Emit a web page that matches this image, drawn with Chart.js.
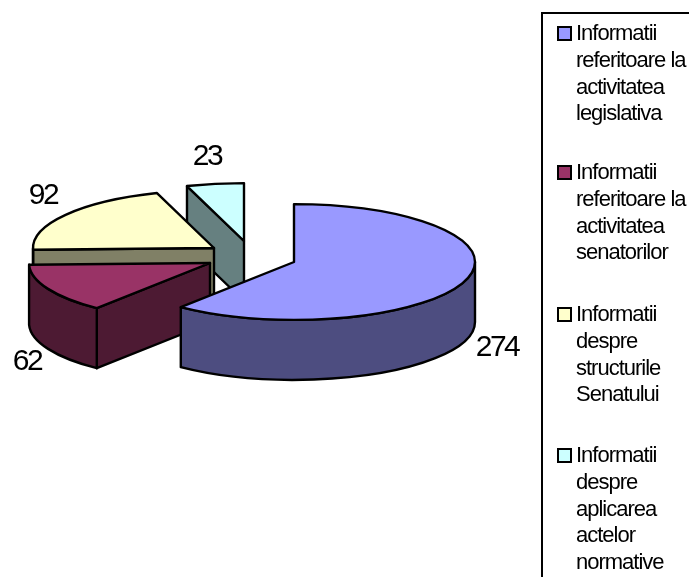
<!DOCTYPE html>
<html>
<head>
<meta charset="utf-8">
<title>Pie 3D</title>
<style>
    html, body { margin: 0; padding: 0; background: #fff; overflow: hidden; }
    #wrap { position: relative; width: 689px; height: 577px; overflow: hidden; }
    #chart { position: absolute; left: 0; top: 0; }
    .legend_box { position: absolute; left: 541px; top: 12px; width: 170px; height: 600px; box-sizing: border-box; border: 2px solid #000; }
    .legend_item { position: absolute; left: 33px; font: 22px "Liberation Sans", Arial, sans-serif; letter-spacing: -1px; line-height: 26.8px; color: #000; white-space: nowrap; }
    .legend_swatch { position: absolute; left: -19px; top: 6px; width: 15px; height: 15px; box-sizing: border-box; border: 2px solid #000; }
</style>
</head>
<body>
<div id="wrap">
    <canvas id="chart" width="689" height="577"></canvas>
    <div class="legend_box" id="legend"></div>
</div>
<script src="https://cdn.jsdelivr.net/npm/chart.js@4"></script>
<script>
"use strict";

const categories = [
    ["Informatii", "referitoare la", "activitatea", "legislativa"],
    ["Informatii", "referitoare la", "activitatea", "senatorilor"],
    ["Informatii", "despre", "structurile", "Senatului"],
    ["Informatii", "despre", "aplicarea", "actelor", "normative"]
];
const values = [274, 62, 92, 23];

const topColors = ["#9999FF", "#993366", "#FFFFCC", "#CCFFFF"];
const sideColors = ["#4D4D80", "#4D1A33", "#808066", "#668080"];

// how far each slice is pulled out of the pie, px
const sliceShiftX = [0, -84, -80, -50];
const sliceShiftY = [0, 1, -14, -21];
const labelX = [497, 27, 43, 207];
const labelY = [348, 362, 196, 157];
const legendTops = [6, 145, 287, 428];

const tilt = 0.32;
const depth = 60;

function drawTop(ctx, cx, cy, r, a0, a1) {
    ctx.beginPath();
    ctx.moveTo(cx, cy);
    ctx.ellipse(cx, cy, r, r * tilt, 0, a0, a1);
    ctx.closePath();
    ctx.fill();
    ctx.stroke();
}

function drawCut(ctx, cx, cy, r, a) {
    const x = cx + Math.cos(a) * r;
    const y = cy + Math.sin(a) * r * tilt;
    ctx.beginPath();
    ctx.moveTo(cx, cy);
    ctx.lineTo(x, y);
    ctx.lineTo(x, y + depth);
    ctx.lineTo(cx, cy + depth);
    ctx.closePath();
    ctx.fill();
    ctx.stroke();
}

function drawWall(ctx, cx, cy, r, a0, a1) {
    const from = Math.max(a0, 0);
    const to = Math.min(a1, Math.PI);
    if (to <= from) return;
    ctx.beginPath();
    ctx.ellipse(cx, cy, r, r * tilt, 0, from, to);
    ctx.ellipse(cx, cy + depth, r, r * tilt, 0, to, from, true);
    ctx.closePath();
    ctx.fill();
    ctx.stroke();
}

// Chart.js lays out the arcs, this draws them as an exploded 3D pie
const pie3d = {
    id: "pie3d",
    beforeDatasetsDraw(chart) {
        const ctx = chart.ctx;
        const arcs = chart.getDatasetMeta(0).data;
        ctx.save();
        ctx.lineWidth = 2.4;
        ctx.lineJoin = "round";
        ctx.strokeStyle = "#000";
        // back slices first
        [3, 2, 1, 0].forEach(i => {
            const { x, y, startAngle, endAngle, outerRadius } = arcs[i].getProps(["x", "y", "startAngle", "endAngle", "outerRadius"], true);
            const cx = x + sliceShiftX[i];
            const cy = y + sliceShiftY[i];
            ctx.fillStyle = sideColors[i];
            if (Math.cos(startAngle) < -0.01) drawCut(ctx, cx, cy, outerRadius, startAngle);
            if (Math.cos(endAngle) > 0.01) drawCut(ctx, cx, cy, outerRadius, endAngle);
            drawWall(ctx, cx, cy, outerRadius, startAngle, endAngle);
            ctx.fillStyle = topColors[i];
            drawTop(ctx, cx, cy, outerRadius, startAngle, endAngle);
        });
        ctx.restore();
        return false;
    },
    // returning false above skips afterDatasetsDraw, so labels go here
    afterDraw(chart) {
        const ctx = chart.ctx;
        ctx.save();
        ctx.font = '30px "Liberation Sans", Arial, sans-serif';
        ctx.letterSpacing = "-2.5px";
        ctx.fillStyle = "#000";
        ctx.textAlign = "center";
        ctx.textBaseline = "middle";
        values.forEach((v, i) => ctx.fillText(String(v), labelX[i], labelY[i]));
        ctx.restore();
    }
};

function buildLegend() {
    const legendEl = document.querySelector("#legend");
    categories.forEach((lines, i) => {
        const html = `<div class="legend_item" style="top:${legendTops[i]}px">
            <span class="legend_swatch" style="background:${topColors[i]}"></span>${lines.join("<br>")}</div>`;
        legendEl.insertAdjacentHTML("beforeend", html);
    });
}

document.addEventListener("DOMContentLoaded", () => {
    buildLegend();
    new Chart(document.getElementById("chart").getContext("2d"), {
        type: "pie",
        data: {
            labels: categories.map(lines => lines.join(" ")),
            datasets: [{ data: values, backgroundColor: topColors, borderColor: "#000", borderWidth: 2 }]
        },
        options: {
            responsive: false,
            animation: false,
            layout: { padding: { left: 112, right: 213, top: 80, bottom: 133 } },
            plugins: { legend: { display: false }, tooltip: { enabled: false } }
        },
        plugins: [pie3d]
    });
});
</script>
</body>
</html>
